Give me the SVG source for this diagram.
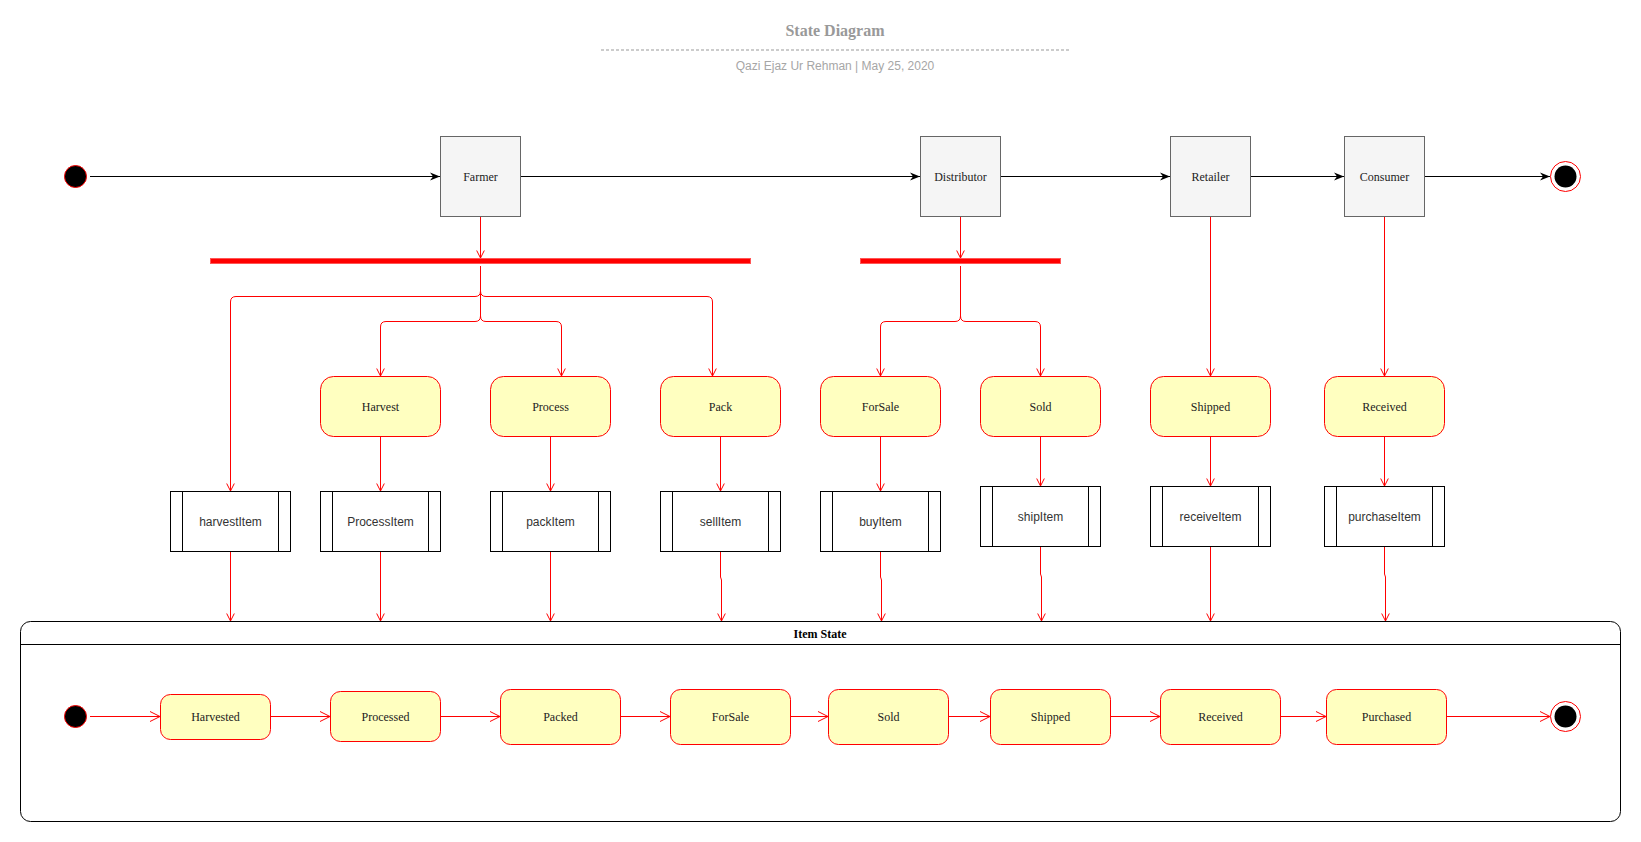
<svg xmlns="http://www.w3.org/2000/svg" width="1641" height="842" viewBox="0 0 1641 842">
<defs>
<style>
.title{font-family:"Liberation Serif",serif;font-weight:bold;font-size:16px;fill:#999999;text-anchor:middle}
.sub{font-family:"Liberation Sans",sans-serif;font-size:12px;fill:#a6a6a6;text-anchor:middle}
.actor rect{fill:#f5f5f5;stroke:#666666;stroke-width:1}
.actor text,.state text,.istate text{font-family:"Liberation Serif",serif;font-size:12px;fill:#222;text-anchor:middle;dominant-baseline:central}
.state rect{fill:#ffffc0;stroke:#ff0000;stroke-width:1}
.istate rect{fill:#ffffc0;stroke:#ff0000;stroke-width:1}
.proc rect,.proc line{fill:#fff;stroke:#000;stroke-width:1}
.proc text{font-family:"Liberation Sans",sans-serif;font-size:12px;fill:#333;text-anchor:middle;dominant-baseline:central}
.bar{fill:#ff0000;stroke:#ff5555;stroke-width:1}
.blk{stroke:#000;stroke-width:1;fill:none;marker-end:url(#ablk)}
.red{stroke:#ff0000;stroke-width:1;fill:none;marker-end:url(#ared)}
.redb{stroke:#ff0000;stroke-width:1;fill:none;marker-end:url(#aredb)}
</style>
<marker id="ablk" markerUnits="userSpaceOnUse" markerWidth="10" markerHeight="10" refX="10" refY="5" orient="auto" viewBox="0 0 10 10">
<path d="M0,1 L10,5 L0,9 L3,5 z" fill="#000"/>
</marker>
<marker id="ared" markerUnits="userSpaceOnUse" markerWidth="10" markerHeight="10" refX="8.5" refY="5" orient="auto" viewBox="0 0 10 10">
<path d="M1,1.2 L8.5,5 L1,8.8" fill="none" stroke="#ff0000" stroke-width="1"/>
</marker>
<marker id="aredb" markerUnits="userSpaceOnUse" markerWidth="12" markerHeight="12" refX="11" refY="6" orient="auto" viewBox="0 0 12 12">
<path d="M1,1 L11,6 L1,11" fill="none" stroke="#ff0000" stroke-width="1"/>
</marker>
</defs>
<rect width="1641" height="842" fill="#fff"/>

<g id="header">
<text class="title" x="835" y="36">State Diagram</text>
<line x1="601" y1="50" x2="1069" y2="50" stroke="#999" stroke-width="1" stroke-dasharray="3,2"/>
<text class="sub" x="835" y="70">Qazi Ejaz Ur Rehman | May 25, 2020</text>
</g>

<g id="container">
<rect x="20.5" y="621.5" width="1600" height="200" rx="10" fill="none" stroke="#000" stroke-width="1"/>
<line x1="20.5" y1="644.5" x2="1620.5" y2="644.5" stroke="#000" stroke-width="1"/>
<text x="820" y="634" font-family="Liberation Serif,serif" font-weight="bold" font-size="12" text-anchor="middle" dominant-baseline="central" fill="#000">Item State</text>
</g>

<g id="connectors">
<!-- top row -->
<path class="blk" d="M90,176.5 L440,176.5"/>
<path class="blk" d="M520,176.5 L920,176.5"/>
<path class="blk" d="M1000,176.5 L1170,176.5"/>
<path class="blk" d="M1250,176.5 L1344,176.5"/>
<path class="blk" d="M1424,176.5 L1550,176.5"/>
<!-- to bars -->
<path class="red" d="M480.5,216 L480.5,258"/>
<path class="red" d="M960.5,216 L960.5,258"/>
<!-- farmer fork -->
<path class="red" d="M480.5,266 L480.5,291 Q480.5,296.5 475,296.5 L236,296.5 Q230.5,296.5 230.5,302 L230.5,491"/>
<path class="red" d="M480.5,266 L480.5,316 Q480.5,321.5 475,321.5 L386,321.5 Q380.5,321.5 380.5,327 L380.5,376"/>
<path class="red" d="M480.5,266 L480.5,316 Q480.5,321.5 486,321.5 L556,321.5 Q561.5,321.5 561.5,327 L561.5,376"/>
<path class="red" d="M480.5,266 L480.5,291 Q480.5,296.5 486,296.5 L707,296.5 Q712.5,296.5 712.5,302 L712.5,376"/>
<!-- distributor fork -->
<path class="red" d="M960.5,266 L960.5,316 Q960.5,321.5 955,321.5 L886,321.5 Q880.5,321.5 880.5,327 L880.5,376"/>
<path class="red" d="M960.5,266 L960.5,316 Q960.5,321.5 966,321.5 L1035,321.5 Q1040.5,321.5 1040.5,327 L1040.5,376"/>
<!-- retailer/consumer -->
<path class="red" d="M1210.5,216 L1210.5,376"/>
<path class="red" d="M1384.5,216 L1384.5,376"/>
<!-- states to processes -->
<path class="red" d="M380.5,436 L380.5,491"/>
<path class="red" d="M550.5,436 L550.5,491"/>
<path class="red" d="M720.5,436 L720.5,491"/>
<path class="red" d="M880.5,436 L880.5,491"/>
<path class="red" d="M1040.5,436 L1040.5,486"/>
<path class="red" d="M1210.5,436 L1210.5,486"/>
<path class="red" d="M1384.5,436 L1384.5,486"/>
<!-- processes to container -->
<path class="red" d="M230.5,551 L230.5,621"/>
<path class="red" d="M380.5,551 L380.5,621"/>
<path class="red" d="M550.5,551 L550.5,621"/>
<path class="red" d="M720.5,551 L720.5,577 L721.5,580 L721.5,621"/>
<path class="red" d="M880.5,551 L880.5,577 L881.5,580 L881.5,621"/>
<path class="red" d="M1040.5,546 L1040.5,574 L1041.5,577 L1041.5,621"/>
<path class="red" d="M1210.5,546 L1210.5,621"/>
<path class="red" d="M1384.5,546 L1384.5,574 L1385.5,577 L1385.5,621"/>
<!-- item state row -->
<path class="redb" d="M90,716.5 L160,716.5"/>
<path class="redb" d="M270,716.5 L330,716.5"/>
<path class="redb" d="M440,716.5 L500,716.5"/>
<path class="redb" d="M620,716.5 L670,716.5"/>
<path class="redb" d="M790,716.5 L828,716.5"/>
<path class="redb" d="M948,716.5 L990,716.5"/>
<path class="redb" d="M1110,716.5 L1160,716.5"/>
<path class="redb" d="M1280,716.5 L1326,716.5"/>
<path class="redb" d="M1446,716.5 L1550,716.5"/>
</g>

<g id="start"><circle cx="75.5" cy="176.5" r="11" fill="#000" stroke="#ff0000" stroke-width="1"/></g>
<g id="end"><circle cx="1565.5" cy="176.5" r="15" fill="#fff" stroke="#ff0000" stroke-width="1"/><circle cx="1565.5" cy="176.5" r="11" fill="#000"/></g>

<g id="farmer" class="actor"><rect x="440.5" y="136.5" width="80" height="80"/><text x="480.5" y="176.5">Farmer</text></g>
<g id="distributor" class="actor"><rect x="920.5" y="136.5" width="80" height="80"/><text x="960.5" y="176.5">Distributor</text></g>
<g id="retailer" class="actor"><rect x="1170.5" y="136.5" width="80" height="80"/><text x="1210.5" y="176.5">Retailer</text></g>
<g id="consumer" class="actor"><rect x="1344.5" y="136.5" width="80" height="80"/><text x="1384.5" y="176.5">Consumer</text></g>

<g id="bar1"><rect class="bar" x="210.5" y="258.5" width="540" height="5"/></g>
<g id="bar2"><rect class="bar" x="860.5" y="258.5" width="200" height="5"/></g>

<g id="harvest" class="state"><rect x="320.5" y="376.5" width="120" height="60" rx="13"/><text x="380.5" y="406.5">Harvest</text></g>
<g id="process" class="state"><rect x="490.5" y="376.5" width="120" height="60" rx="13"/><text x="550.5" y="406.5">Process</text></g>
<g id="pack" class="state"><rect x="660.5" y="376.5" width="120" height="60" rx="13"/><text x="720.5" y="406.5">Pack</text></g>
<g id="forsale" class="state"><rect x="820.5" y="376.5" width="120" height="60" rx="13"/><text x="880.5" y="406.5">ForSale</text></g>
<g id="sold" class="state"><rect x="980.5" y="376.5" width="120" height="60" rx="13"/><text x="1040.5" y="406.5">Sold</text></g>
<g id="shipped" class="state"><rect x="1150.5" y="376.5" width="120" height="60" rx="13"/><text x="1210.5" y="406.5">Shipped</text></g>
<g id="received" class="state"><rect x="1324.5" y="376.5" width="120" height="60" rx="13"/><text x="1384.5" y="406.5">Received</text></g>

<g id="harvestItem" class="proc"><rect x="170.5" y="491.5" width="120" height="60"/><line x1="182.5" y1="491.5" x2="182.5" y2="551.5"/><line x1="278.5" y1="491.5" x2="278.5" y2="551.5"/><text x="230.5" y="521.5">harvestItem</text></g>
<g id="processItem" class="proc"><rect x="320.5" y="491.5" width="120" height="60"/><line x1="332.5" y1="491.5" x2="332.5" y2="551.5"/><line x1="428.5" y1="491.5" x2="428.5" y2="551.5"/><text x="380.5" y="521.5">ProcessItem</text></g>
<g id="packItem" class="proc"><rect x="490.5" y="491.5" width="120" height="60"/><line x1="502.5" y1="491.5" x2="502.5" y2="551.5"/><line x1="598.5" y1="491.5" x2="598.5" y2="551.5"/><text x="550.5" y="521.5">packItem</text></g>
<g id="sellItem" class="proc"><rect x="660.5" y="491.5" width="120" height="60"/><line x1="672.5" y1="491.5" x2="672.5" y2="551.5"/><line x1="768.5" y1="491.5" x2="768.5" y2="551.5"/><text x="720.5" y="521.5">sellItem</text></g>
<g id="buyItem" class="proc"><rect x="820.5" y="491.5" width="120" height="60"/><line x1="832.5" y1="491.5" x2="832.5" y2="551.5"/><line x1="928.5" y1="491.5" x2="928.5" y2="551.5"/><text x="880.5" y="521.5">buyItem</text></g>
<g id="shipItem" class="proc"><rect x="980.5" y="486.5" width="120" height="60"/><line x1="992.5" y1="486.5" x2="992.5" y2="546.5"/><line x1="1088.5" y1="486.5" x2="1088.5" y2="546.5"/><text x="1040.5" y="516.5">shipItem</text></g>
<g id="receiveItem" class="proc"><rect x="1150.5" y="486.5" width="120" height="60"/><line x1="1162.5" y1="486.5" x2="1162.5" y2="546.5"/><line x1="1258.5" y1="486.5" x2="1258.5" y2="546.5"/><text x="1210.5" y="516.5">receiveItem</text></g>
<g id="purchaseItem" class="proc"><rect x="1324.5" y="486.5" width="120" height="60"/><line x1="1336.5" y1="486.5" x2="1336.5" y2="546.5"/><line x1="1432.5" y1="486.5" x2="1432.5" y2="546.5"/><text x="1384.5" y="516.5">purchaseItem</text></g>

<g id="istart"><circle cx="75.5" cy="716.5" r="11" fill="#000" stroke="#ff0000" stroke-width="1"/></g>
<g id="iend"><circle cx="1565.5" cy="716.5" r="15" fill="#fff" stroke="#ff0000" stroke-width="1"/><circle cx="1565.5" cy="716.5" r="11" fill="#000"/></g>

<g id="harvested" class="istate"><rect x="160.5" y="694.5" width="110" height="45" rx="10"/><text x="215.5" y="717">Harvested</text></g>
<g id="processed" class="istate"><rect x="330.5" y="691.5" width="110" height="50" rx="10"/><text x="385.5" y="717">Processed</text></g>
<g id="packed" class="istate"><rect x="500.5" y="689.5" width="120" height="55" rx="10"/><text x="560.5" y="717">Packed</text></g>
<g id="iforsale" class="istate"><rect x="670.5" y="689.5" width="120" height="55" rx="10"/><text x="730.5" y="717">ForSale</text></g>
<g id="isold" class="istate"><rect x="828.5" y="689.5" width="120" height="55" rx="10"/><text x="888.5" y="717">Sold</text></g>
<g id="ishipped" class="istate"><rect x="990.5" y="689.5" width="120" height="55" rx="10"/><text x="1050.5" y="717">Shipped</text></g>
<g id="ireceived" class="istate"><rect x="1160.5" y="689.5" width="120" height="55" rx="10"/><text x="1220.5" y="717">Received</text></g>
<g id="purchased" class="istate"><rect x="1326.5" y="689.5" width="120" height="55" rx="10"/><text x="1386.5" y="717">Purchased</text></g>
</svg>
